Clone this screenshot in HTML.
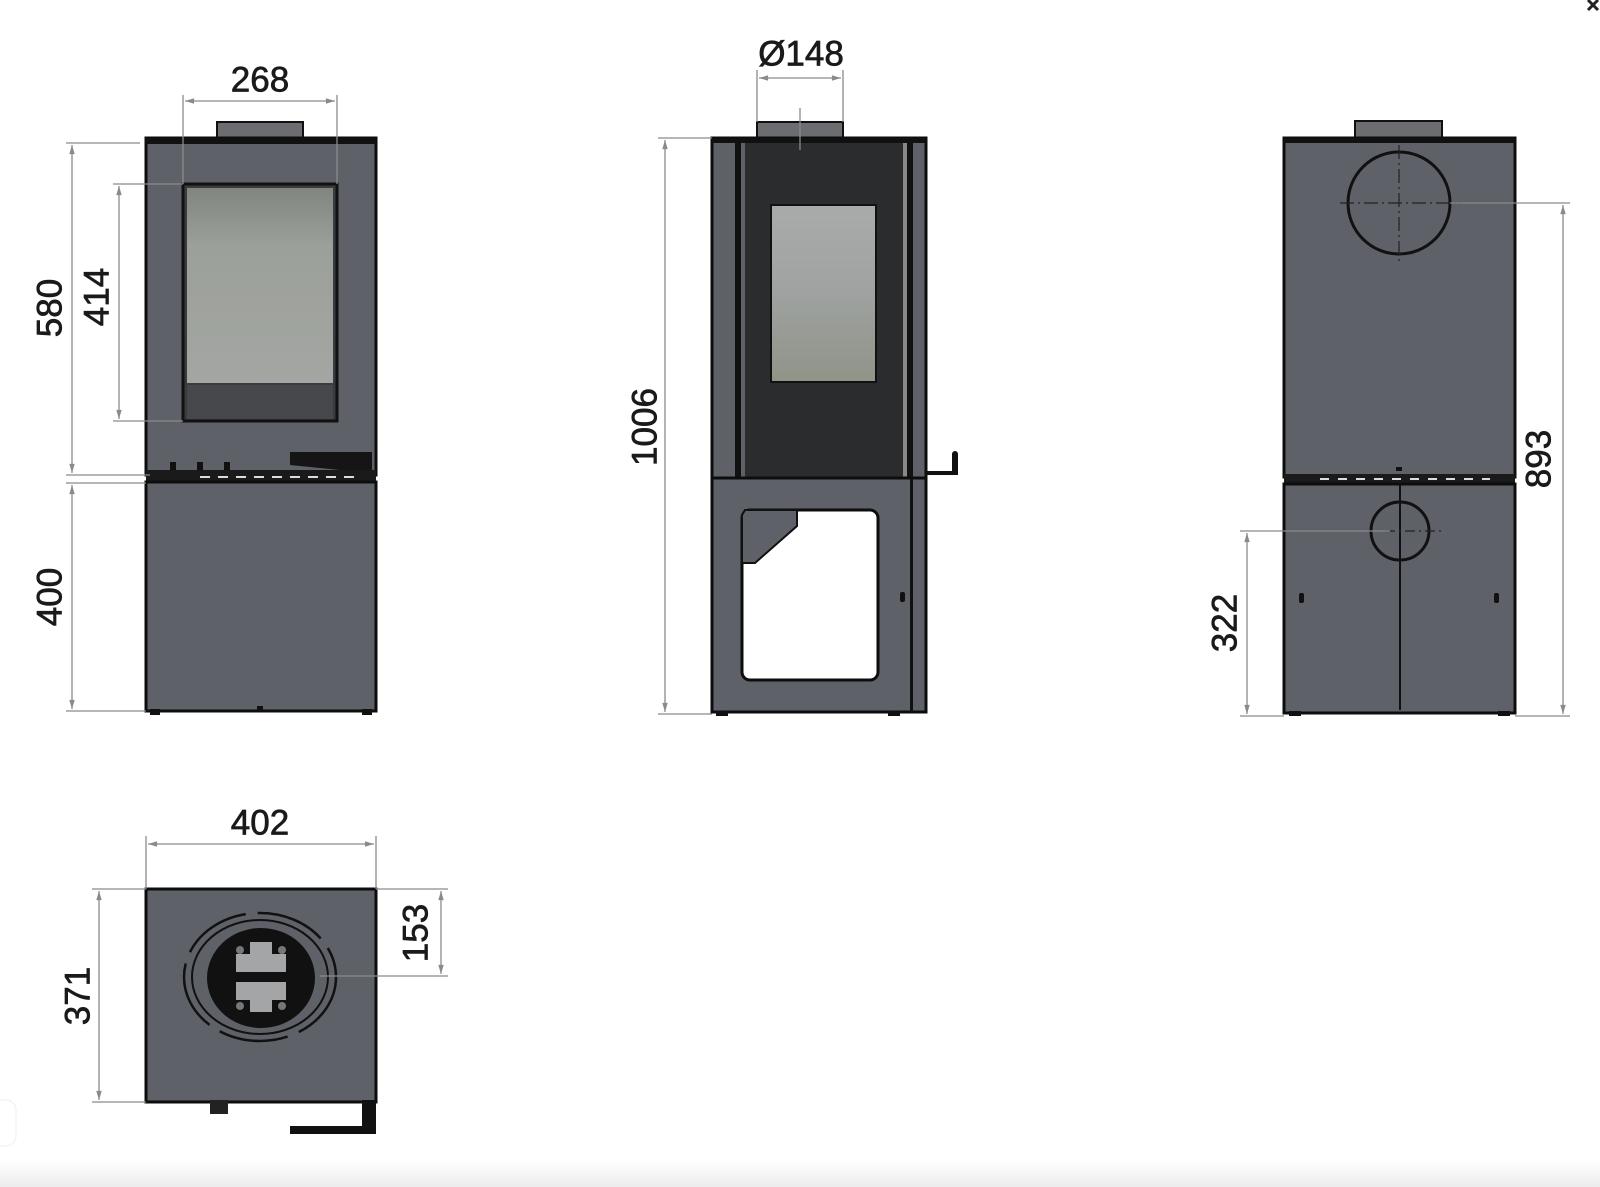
<!DOCTYPE html>
<html><head><meta charset="utf-8"><style>
html,body{margin:0;padding:0;background:#fff;width:1600px;height:1187px;overflow:hidden}
svg{display:block}
text{font-family:"Liberation Sans Narrow","Liberation Sans",sans-serif;font-size:35px;fill:#1a1a1a;stroke:#1a1a1a;stroke-width:0.7;text-anchor:middle;dominant-baseline:central}
.d{stroke:#8a8a8a;stroke-width:1.3;fill:none}
.b{fill:#5e6167;stroke:#0d0d0d;stroke-width:3}
</style></head><body>
<svg width="1600" height="1187" viewBox="0 0 1600 1187" xmlns="http://www.w3.org/2000/svg">
<defs>
<marker id="a" viewBox="0 0 10 10" refX="10" refY="5" markerWidth="9" markerHeight="7" orient="auto-start-reverse"><path d="M0,2 L10,5 L0,8 z" fill="#8a8a8a"/></marker>
<linearGradient id="gl" x1="0" y1="0" x2="0" y2="1"><stop offset="0" stop-color="#80857f"/><stop offset="0.3" stop-color="#9ca09a"/><stop offset="1" stop-color="#a3a6a2"/></linearGradient>
<linearGradient id="gl2" x1="0" y1="0" x2="0" y2="1"><stop offset="0" stop-color="#a9abab"/><stop offset="0.45" stop-color="#a0a3a2"/><stop offset="1" stop-color="#8f9488"/></linearGradient>
<linearGradient id="bot" x1="0" y1="0" x2="0" y2="1"><stop offset="0" stop-color="#fff"/><stop offset="1" stop-color="#ececec"/></linearGradient>
</defs>
<rect x="0" y="1160" width="1600" height="27" fill="url(#bot)"/>
<rect x="-10" y="1100" width="26" height="46" rx="10" fill="#fff" stroke="#eee"/>
<path d="M1588,0 L1598,10 M1598,0 L1588,10" stroke="#222" stroke-width="3"/>

<!-- LEFT FRONT VIEW -->
<rect x="217" y="122" width="86" height="16" fill="#6b6d70" stroke="#111" stroke-width="2"/>
<rect x="146" y="138" width="230" height="337" class="b"/>
<rect x="146" y="138" width="230" height="6" fill="#111"/>
<rect x="183" y="184" width="154" height="237" fill="#3a3b3e" stroke="#111" stroke-width="3"/>
<rect x="187" y="188" width="146" height="195" fill="url(#gl)"/>
<rect x="187" y="385" width="146" height="34" fill="#47484b"/>
<path d="M290,452 H372 V470 L340,470 L290,465 Z" fill="#151515"/>
<rect x="170" y="462" width="6" height="8" fill="#111"/><rect x="197" y="462" width="6" height="8" fill="#111"/><rect x="224" y="462" width="6" height="8" fill="#111"/>
<rect x="146" y="470" width="230" height="12" fill="#1a1a1a"/>
<path d="M200,477 H360" stroke="#ddd" stroke-width="2" stroke-dasharray="10 8"/>
<rect x="146" y="482" width="230" height="229" class="b"/>
<rect x="150" y="709" width="10" height="6" fill="#111"/><rect x="362" y="709" width="10" height="6" fill="#111"/><rect x="257" y="706" width="6" height="5" fill="#111"/>
<path class="d" d="M183,184 V95 M337,184 V95"/>
<line class="d" x1="185" y1="101" x2="335" y2="101" marker-start="url(#a)" marker-end="url(#a)"/>
<text x="260" y="80">268</text>
<path class="d" d="M66,143 H140 M66,475 H150 M66,483 H146 M66,711 H146 M113,184 H183 M113,421 H183"/>
<line class="d" x1="72" y1="145" x2="72" y2="473" marker-start="url(#a)" marker-end="url(#a)"/>
<line class="d" x1="72" y1="485" x2="72" y2="709" marker-start="url(#a)" marker-end="url(#a)"/>
<line class="d" x1="119" y1="186" x2="119" y2="419" marker-start="url(#a)" marker-end="url(#a)"/>
<text transform="translate(50,308) rotate(-90)">580</text>
<text transform="translate(97,297) rotate(-90)">414</text>
<text transform="translate(50,597) rotate(-90)">400</text>

<!-- MIDDLE SIDE VIEW -->
<rect x="757" y="122" width="86" height="16" fill="#6b6d70" stroke="#111" stroke-width="2"/>
<rect x="712" y="138" width="214" height="340" class="b"/>
<rect x="712" y="138" width="214" height="5" fill="#111"/>
<rect x="735" y="143" width="6" height="335" fill="#111"/>
<rect x="745" y="143" width="158" height="335" fill="#2b2c2e"/>
<rect x="903" y="143" width="4" height="335" fill="#888"/>
<rect x="907" y="143" width="6" height="335" fill="#111"/>
<rect x="771" y="205" width="105" height="177" fill="url(#gl2)" stroke="#111" stroke-width="2"/>
<path d="M926,475 H958 V454 a3,3 0 0 0 -6,0 V471 H926 Z" fill="#111"/>
<path class="b" fill-rule="evenodd" d="M712,478 H926 V712 H712 Z M750,510 H870 a8,8 0 0 1 8,8 V672 a8,8 0 0 1 -8,8 H750 a8,8 0 0 1 -8,-8 V518 a8,8 0 0 1 8,-8 Z" fill="#5e6167"/>
<path d="M745,510 H797 V526 L755,563 H742 V515 Z" fill="#5e6167" stroke="#111" stroke-width="2"/>
<rect x="910" y="478" width="3" height="234" fill="#111"/>
<rect x="900" y="592" width="5" height="10" rx="2" fill="#111"/>
<rect x="716" y="711" width="12" height="5" fill="#111"/><rect x="888" y="711" width="12" height="5" fill="#111"/>
<path class="d" d="M757,122 V70 M843,122 V70 M800,108 V150" />
<line class="d" x1="759" y1="78" x2="841" y2="78" marker-start="url(#a)" marker-end="url(#a)"/>
<text x="801" y="54">Ø148</text>
<path class="d" d="M658,138 H712 M658,714 H712"/>
<line class="d" x1="665" y1="140" x2="665" y2="712" marker-start="url(#a)" marker-end="url(#a)"/>
<text transform="translate(645,427) rotate(-90)">1006</text>

<!-- RIGHT BACK VIEW -->
<rect x="1355" y="121" width="87" height="17" fill="#6b6d70" stroke="#111" stroke-width="2"/>
<rect x="1284" y="138" width="231" height="339" class="b"/>
<rect x="1284" y="138" width="231" height="5" fill="#111"/>
<circle cx="1399" cy="203" r="51" fill="none" stroke="#111" stroke-width="3"/>
<path d="M1340,203 H1462 M1399,145 V262" stroke="#222" stroke-width="1.2" stroke-dasharray="14 4 2 4"/>
<rect x="1284" y="474" width="231" height="10" fill="#1a1a1a"/>
<path d="M1320,479 H1490" stroke="#ddd" stroke-width="2" stroke-dasharray="9 9"/>
<rect x="1396" y="467" width="6" height="4" fill="#111"/>
<rect x="1284" y="484" width="231" height="229" class="b"/>
<line x1="1400" y1="484" x2="1400" y2="710" stroke="#111" stroke-width="2"/>
<circle cx="1400" cy="531" r="29" fill="none" stroke="#111" stroke-width="3"/>
<path d="M1385,531 H1442" stroke="#222" stroke-width="1.2" stroke-dasharray="10 4 2 4"/>
<rect x="1299" y="593" width="5" height="10" rx="2" fill="#111"/><rect x="1494" y="593" width="5" height="10" rx="2" fill="#111"/>
<rect x="1289" y="711" width="12" height="5" fill="#111"/><rect x="1498" y="711" width="12" height="5" fill="#111"/>
<path class="d" d="M1450,203 H1570 M1240,531 H1390 M1240,716 H1284 M1515,716 H1570"/>
<line class="d" x1="1563" y1="205" x2="1563" y2="714" marker-start="url(#a)" marker-end="url(#a)"/>
<line class="d" x1="1247" y1="533" x2="1247" y2="714" marker-start="url(#a)" marker-end="url(#a)"/>
<text transform="translate(1539,459) rotate(-90)">893</text>
<text transform="translate(1225,623) rotate(-90)">322</text>

<!-- TOP VIEW -->
<rect x="146" y="889" width="230" height="213" class="b"/>
<ellipse cx="260" cy="977" rx="76" ry="64" fill="none" stroke="#111" stroke-width="2.5" stroke-dasharray="70 12"/>
<ellipse cx="260" cy="977" rx="68" ry="57" fill="none" stroke="#111" stroke-width="2"/>
<ellipse cx="261" cy="978" rx="54" ry="50" fill="#111"/>
<path d="M236,954 h14 v-12 h22 v12 h14 v18 h-50 Z M236,982 h50 v18 h-14 v12 h-22 v-12 h-14 Z" fill="#a3a5a7"/>
<circle cx="240" cy="950" r="4" fill="#777"/><circle cx="282" cy="950" r="4" fill="#777"/><circle cx="240" cy="1006" r="4" fill="#777"/><circle cx="282" cy="1006" r="4" fill="#777"/>
<rect x="210" y="1100" width="18" height="14" fill="#222"/>
<path d="M290,1126 H362 V1100 H376 V1134 H290 Z" fill="#111"/>
<path class="d" d="M146,889 V836 M376,889 V836 M92,889 H146 M92,1102 H146 M376,889 H448 M320,976 H448"/>
<line class="d" x1="148" y1="844" x2="374" y2="844" marker-start="url(#a)" marker-end="url(#a)"/>
<line class="d" x1="99" y1="891" x2="99" y2="1100" marker-start="url(#a)" marker-end="url(#a)"/>
<line class="d" x1="441" y1="891" x2="441" y2="974" marker-start="url(#a)" marker-end="url(#a)"/>
<text x="260" y="823">402</text>
<text transform="translate(78,996) rotate(-90)">371</text>
<text transform="translate(416,933) rotate(-90)">153</text>
</svg>
</body></html>
